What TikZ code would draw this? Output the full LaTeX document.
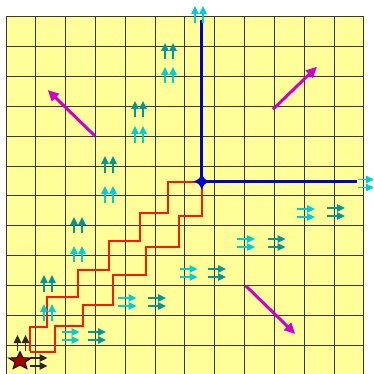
\documentclass[tikz,border=0pt]{standalone}
\usetikzlibrary{arrows.meta,shapes.geometric}
\definecolor{gridyellow}{RGB}{255,255,153}
\definecolor{gridline}{RGB}{55,55,55}
\definecolor{blueline}{RGB}{0,0,210}
\definecolor{redline}{RGB}{255,25,0}
\definecolor{magentaarrow}{RGB}{204,0,204}
\definecolor{cyanarrow}{RGB}{0,204,214}
\definecolor{tealarrow}{RGB}{0,150,150}
\definecolor{darkarrow}{RGB}{40,40,40}
\definecolor{starred}{RGB}{160,0,0}
\begin{document}
\begin{tikzpicture}[x=1pt,y=-1pt,
  gridrule/.style={gridline, line width=1pt},
  smallarrow/.style={line width=1.3pt, -{Triangle[length=8pt,width=7.5pt]}},
  bigarrow/.style={magentaarrow, line width=3pt, -{Triangle[length=11pt,width=10pt]}},
  axisline/.style={blueline, line width=3pt},
  stairline/.style={redline, line width=2pt}]
\useasboundingbox (0,0) rectangle (373,374);
\clip (0,0) rectangle (373,374);
% grid
\fill[gridyellow] (6,17) rectangle (364,375);
\foreach \k in {0,...,12} {
  \draw[gridrule] ({6+29.83*\k},17) -- ({6+29.83*\k},375);
  \draw[gridrule] (6,{17+29.83*\k}) -- (364,{17+29.83*\k});
}
% staircase
\draw[stairline] (30,351) -- (30,326.7) -- (46.7,326.7) -- (46.7,297.3) -- (77.7,297.3)
  -- (77.7,270) -- (109,270) -- (109,240.5) -- (140,240.5) -- (140,212.7)
  -- (168.3,212.7) -- (168.3,181.7) -- (201.7,181.7);
\draw[stairline] (30,352.3) -- (55,352.3) -- (55,325.7) -- (82.7,325.7) -- (82.7,305)
  -- (113.3,305) -- (113.3,275) -- (146,275) -- (146,247) -- (179.3,247)
  -- (179.3,215.7) -- (201.7,215.7) -- (201.7,181.7);
% blue axes
\coordinate (c) at (201.7,181.5);
\coordinate (ntop) at (201.7,20);
\coordinate (eright) at (357,181.5);
\draw[axisline] (c) -- (ntop);
\draw[axisline] (c) -- (eright);
\fill[blueline, shift={(c)}] (-8.5,0) .. controls (-3,-1.8) and (-1.8,-3) .. (0,-8.5)
  .. controls (1.8,-3) and (3,-1.8) .. (8.5,0)
  .. controls (3,1.8) and (1.8,3) .. (0,8.5)
  .. controls (-1.8,3) and (-3,1.8) .. (-8.5,0) -- cycle;
% magenta arrows
\coordinate (m1a) at (95,136);   \coordinate (m1b) at (47.7,90);
\coordinate (m2a) at (273,109.3); \coordinate (m2b) at (317,66.7);
\coordinate (m3a) at (245.7,285.7); \coordinate (m3b) at (295.3,334);
\draw[bigarrow] (m1a) -- (m1b);
\draw[bigarrow] (m2a) -- (m2b);
\draw[bigarrow] (m3a) -- (m3b);
% upward pairs
\foreach \x/\t/\b/\c in {195/6/23/cyanarrow, 165/43/59/tealarrow, 165/67/83/cyanarrow,
  135/101/117/tealarrow, 135/126/143/cyanarrow, 105/156/173/tealarrow, 105/186/203/cyanarrow,
  74/217/233/tealarrow, 74/246/262/cyanarrow, 44/275/292/tealarrow, 44/304/321/cyanarrow,
  17.5/335/351/darkarrow} {
  \draw[smallarrow,\c] (\x,\b) -- (\x,\t);
  \draw[smallarrow,\c] ({\x+8},\b) -- ({\x+8},\t);
}
% rightward pairs
\foreach \l/\r/\y/\c in {358/374/179.5/cyanarrow, 297/315/209/cyanarrow, 327/345/208/tealarrow,
  237/255/239/cyanarrow, 268/285.5/239/tealarrow, 180/197.5/269/cyanarrow, 208/226/269/tealarrow,
  118/136.5/298/cyanarrow, 148/166/298/tealarrow, 62/79.5/332/cyanarrow, 88/106/332/tealarrow,
  30/47.5/358/darkarrow} {
  \draw[smallarrow,\c] (\l,\y) -- (\r,\y);
  \draw[smallarrow,\c] (\l,{\y+8}) -- (\r,{\y+8});
}
% origin star
\begin{scope}[shift={(20,361)}, yscale=0.8]
\node[star, star points=5, star point ratio=2.3, minimum size=24pt, inner sep=0pt,
  fill=starred, draw=black, line width=0.8pt, transform shape] (s) at (0,0) {};
\end{scope}
\end{tikzpicture}
\end{document}
